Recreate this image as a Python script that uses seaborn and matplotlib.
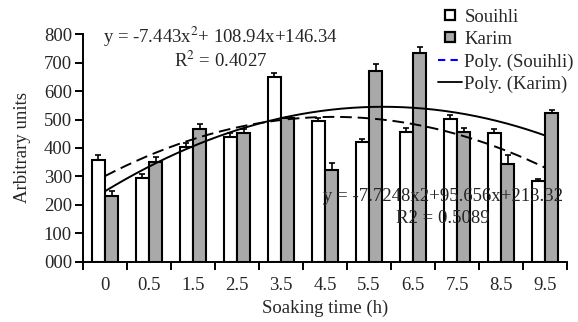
import numpy as np
import pandas as pd
import matplotlib
matplotlib.use("Agg")
import matplotlib.pyplot as plt
import seaborn as sns
from matplotlib.lines import Line2D

# ---- data ----
times = ["0", "0.5", "1.5", "2.5", "3.5", "4.5", "5.5", "6.5", "7.5", "8.5", "9.5"]
souihli = [359, 295, 404, 439, 650, 495, 421, 457, 503, 452, 283]
karim = [230, 350, 466, 454, 504, 322, 672, 734, 456, 345, 522]
souihli_err = [18, 12, 12, 15, 13, 12, 12, 15, 12, 14, 8]
karim_err = [19, 18, 18, 14, 5, 26, 22, 21, 16, 32, 10]
# Excel polynomial trendline coefficients (a, b, c) for y = a x^2 + b x + c, x = 1..11
poly_souihli = [-7.7248, 95.656, 213.32]
poly_karim = [-7.443, 108.94, 146.34]
yticks = [0, 100, 200, 300, 400, 500, 600, 700, 800]
ytick_labels = ["000", "100", "200", "300", "400", "500", "600", "700", "800"]

sns.set_theme(style="white")
plt.rcParams['font.family'] = ['Liberation Serif', 'DejaVu Serif']
plt.rcParams['mathtext.fontset'] = 'stix'

FS = 13.5

df = pd.DataFrame({
    "time": times * 2,
    "value": souihli + karim,
    "cultivar": ["Souihli"] * len(times) + ["Karim"] * len(times),
})
err_map = {"Souihli": souihli_err, "Karim": karim_err}

fig = plt.figure(figsize=(5.78, 3.22), dpi=100)
ax = fig.add_axes([0.1436, 0.1873, 0.8374, 0.7062])

gray = "#a9a9a9"
sns.barplot(data=df, x="time", y="value", hue="cultivar", order=times,
            hue_order=["Souihli", "Karim"],
            palette={"Souihli": "white", "Karim": gray},
            edgecolor="black", linewidth=1.5, width=0.6, errorbar=None,
            legend=False, ax=ax, zorder=2)

# upper-only error bars, positioned from the bar patches
bars = [p for p in ax.patches]
n = len(times)
for k, name in enumerate(["Souihli", "Karim"]):
    for i in range(n):
        p = bars[k * n + i]
        xc = p.get_x() + p.get_width() / 2
        h = p.get_height()
        ax.errorbar([xc], [h], yerr=[[0], [err_map[name][i]]], fmt="none",
                    ecolor="black", elinewidth=1.2, capsize=2.5, capthick=1.2,
                    zorder=3)

# trendlines
xd = np.linspace(0, n - 1, 300)
xs = xd + 1
ys = poly_souihli[0] * xs**2 + poly_souihli[1] * xs + poly_souihli[2]
yk = poly_karim[0] * xs**2 + poly_karim[1] * xs + poly_karim[2]
ax.plot(xd, ys, color="black", lw=1.4, ls=(0, (6, 3)), zorder=4)
ax.plot(xd, yk, color="black", lw=1.4, ls="-", zorder=4)

ax.set_xlim(-0.5, n - 0.5)
ax.set_ylim(0, 800)
ax.set_yticks(yticks)
ax.set_yticklabels(ytick_labels, fontsize=FS)
ax.set_xticks(np.arange(-0.5, n, 1.0))
ax.set_xticklabels([])
ax.set_xticks(np.arange(n), minor=True)
ax.set_xticklabels(times, minor=True, fontsize=FS)
ax.tick_params(axis="x", which="major", direction="out", length=6, width=1.4,
               color="black", bottom=True)
ax.tick_params(axis="x", which="minor", length=0, pad=11)
ax.tick_params(axis="y", direction="out", length=6, width=1.4, color="black",
               left=True, pad=2)
for s in ["top", "right"]:
    ax.spines[s].set_visible(False)
for s in ["left", "bottom"]:
    ax.spines[s].set_color("black")
    ax.spines[s].set_linewidth(1.4)

ax.set_xlabel("Soaking time (h)", fontsize=FS, labelpad=4)
ax.set_ylabel("Arbitrary units", fontsize=FS, labelpad=9)

# equation annotations
ax.text(0.285, 0.988, r"y = -7.443x$^{2}$+ 108.94x+146.34", transform=ax.transAxes,
        ha="center", va="center", fontsize=FS, zorder=6)
ax.text(0.285, 0.885, r"R$^{2}$ = 0.4027", transform=ax.transAxes,
        ha="center", va="center", fontsize=FS, zorder=6)
ax.text(0.744, 0.285, "y = -7.7248x2+95.656x+213.32", transform=ax.transAxes,
        ha="center", va="center", fontsize=FS, zorder=6)
ax.text(0.744, 0.192, "R2 = 0.5089", transform=ax.transAxes,
        ha="center", va="center", fontsize=FS, zorder=6)

handles = [
    Line2D([], [], ls="none", marker="s", markersize=7, markerfacecolor="white",
           markeredgecolor="black", markeredgewidth=1.6),
    Line2D([], [], ls="none", marker="s", markersize=7, markerfacecolor=gray,
           markeredgecolor="black", markeredgewidth=1.6),
    Line2D([], [], color="blue", lw=1.5, ls=(0, (3.5, 2.5))),
    Line2D([], [], color="black", lw=1.3),
]
labels = ["Souihli", "Karim", "Poly. (Souihli)", "Poly. (Karim)"]
leg = fig.legend(handles, labels, loc="upper left", bbox_to_anchor=(0.745, 0.997),
                 frameon=False, fontsize=FS, handlelength=1.25, numpoints=1,
                 handletextpad=0.15, labelspacing=0.28, borderaxespad=0)

fig.savefig("out.png", dpi=100)
